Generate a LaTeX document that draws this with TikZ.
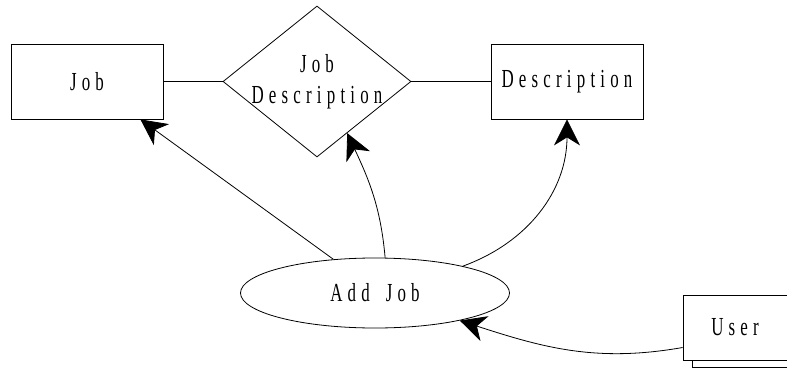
\documentclass[tikz,border=0pt]{standalone}
\usepackage{fontspec}
\newfontfamily\lblfont[FakeStretch=0.65,LetterSpace=20,WordSpace=1.7]{Liberation Serif}
\usetikzlibrary{shapes.geometric,arrows.meta,calc,shadows}

\begin{document}
\begin{tikzpicture}[x=1pt,y=-1pt,
  every node/.style={font=\lblfont\fontsize{26}{31}\selectfont},
  thinline/.style={line width=0.8pt},
  entity/.style={draw, thinline, rectangle, inner sep=0pt,
    minimum width=152pt, minimum height=75pt},
  relation/.style={draw, thinline, diamond, inner sep=0pt,
    minimum width=188pt, minimum height=151pt},
  process/.style={draw, thinline, ellipse, inner sep=0pt,
    minimum width=269pt, minimum height=70pt},
  actor/.style={draw, thinline, rectangle, fill=white, inner sep=0pt,
    minimum width=130pt, minimum height=65pt,
    copy shadow={shadow xshift=9pt, shadow yshift=-7pt}},
  flow/.style={thinline, -{Stealth[length=26pt, width=26pt, inset=8pt]}}
]
\useasboundingbox (0,0) rectangle (787,369);
\clip (0,0) rectangle (787,369);

% entities and relationship
\node[entity] (job) at (87,81.5) {Job};
\node[relation, label={[align=center]center:Job\\Description}] (jd) at (317,81.5) {};
\node[entity] (desc) at (567,81.5) {Description};

% process and external actor (the actor box runs past the right edge)
\node[process] (add) at (375,293) {Add Job};
\node[actor, label={[xshift=-13pt]center:User}] (user) at (748,327.5) {};

% relationship links
\draw[thinline] (job.east) -- (jd.west);
\draw[thinline] (jd.east) -- (desc.west);

% data flows
\draw[flow] (add.141) -- ([xshift=-23pt]job.south east);
\draw[flow] (add.74) to[out=95, in=-65] ($(jd.south)!0.32!(jd.east)$);
\draw[flow] (add.17) to[out=20, in=-90] (desc.south);
\draw[flow] ([yshift=-20pt]user.west) to[out=190, in=-18] (add.-18);
\end{tikzpicture}
\end{document}
